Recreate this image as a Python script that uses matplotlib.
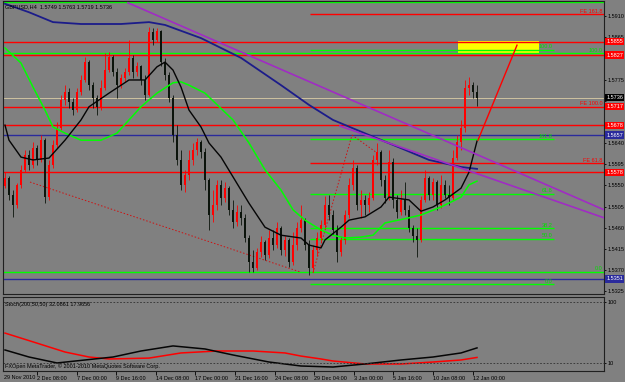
import numpy as np
import matplotlib.pyplot as plt
import matplotlib.transforms as mtransforms
from matplotlib.patches import Rectangle

plt.rcParams['font.family'] = ['Liberation Sans', 'DejaVu Sans']

# ---- data (GBPUSD H4) ----
title = "GBPUSD,H4  1.5749 1.5763 1.5719 1.5736"
first_open = 1.5549
close = [
    1.5566, 1.5529, 1.5508, 1.5551, 1.5583, 1.5615, 1.5593, 1.5629, 1.5604, 1.5646,
    1.5525, 1.5593, 1.5636, 1.5672, 1.5731, 1.5748, 1.5727, 1.5710, 1.5748, 1.5774,
    1.5812, 1.5763, 1.5736, 1.5717, 1.5757, 1.5795, 1.5823, 1.5791, 1.5763, 1.5778,
    1.5791, 1.5821, 1.5791, 1.5804, 1.5774, 1.5742, 1.5876, 1.5859, 1.5878, 1.5812,
    1.5785, 1.5736, 1.5657, 1.5604, 1.5551, 1.5572, 1.5604, 1.5625, 1.5642, 1.5621,
    1.5561, 1.5487, 1.5508, 1.5551, 1.5523, 1.5544, 1.5498, 1.5472, 1.5493, 1.5481,
    1.5438, 1.5387, 1.5374, 1.5408, 1.5430, 1.5402, 1.5438, 1.5423, 1.5459, 1.5413,
    1.5434, 1.5387, 1.5423, 1.5459, 1.5476, 1.5423, 1.5374, 1.5413, 1.5438, 1.5466,
    1.5508, 1.5487, 1.5455, 1.5408, 1.5434, 1.5487, 1.5551, 1.5587, 1.5508, 1.5519,
    1.5508, 1.5523, 1.5604, 1.5621, 1.5561, 1.5523, 1.5600, 1.5519, 1.5493, 1.5519,
    1.5498, 1.5459, 1.5442, 1.5434, 1.5519, 1.5566, 1.5529, 1.5557, 1.5508, 1.5551,
    1.5529, 1.5523, 1.5608, 1.5642, 1.5672, 1.5757, 1.5763, 1.5749, 1.5736]
high = [
    1.5578, 1.5570, 1.5540, 1.5555, 1.5593, 1.5625, 1.5625, 1.5642, 1.5636, 1.5657,
    1.5651, 1.5604, 1.5646, 1.5685, 1.5742, 1.5763, 1.5757, 1.5736, 1.5757, 1.5785,
    1.5823, 1.5816, 1.5770, 1.5742, 1.5774, 1.5831, 1.5833, 1.5827, 1.5799, 1.5787,
    1.5799, 1.5859, 1.5827, 1.5812, 1.5806, 1.5785, 1.5887, 1.5884, 1.5884, 1.5880,
    1.5821, 1.5791, 1.5742, 1.5678, 1.5625, 1.5583, 1.5625, 1.5640, 1.5651, 1.5646,
    1.5629, 1.5566, 1.5540, 1.5561, 1.5561, 1.5557, 1.5549, 1.5519, 1.5508, 1.5508,
    1.5489, 1.5444, 1.5413, 1.5417, 1.5442, 1.5434, 1.5455, 1.5455, 1.5472, 1.5464,
    1.5442, 1.5438, 1.5451, 1.5472, 1.5508, 1.5481, 1.5434, 1.5423, 1.5451, 1.5476,
    1.5527, 1.5529, 1.5498, 1.5466, 1.5442, 1.5498, 1.5566, 1.5604, 1.5593, 1.5540,
    1.5529, 1.5536, 1.5615, 1.5640, 1.5625, 1.5572, 1.5625, 1.5608, 1.5529, 1.5540,
    1.5557, 1.5508, 1.5466, 1.5459, 1.5527, 1.5583, 1.5570, 1.5566, 1.5561, 1.5572,
    1.5561, 1.5551, 1.5625, 1.5657, 1.5689, 1.5774, 1.5780, 1.5770, 1.5763]
low = [
    1.5544, 1.5519, 1.5483, 1.5502, 1.5544, 1.5578, 1.5583, 1.5587, 1.5593, 1.5600,
    1.5512, 1.5519, 1.5587, 1.5629, 1.5668, 1.5721, 1.5714, 1.5700, 1.5706, 1.5742,
    1.5770, 1.5753, 1.5714, 1.5700, 1.5710, 1.5753, 1.5791, 1.5782, 1.5736, 1.5757,
    1.5770, 1.5785, 1.5778, 1.5782, 1.5763, 1.5731, 1.5740, 1.5848, 1.5855, 1.5804,
    1.5774, 1.5727, 1.5642, 1.5593, 1.5540, 1.5536, 1.5561, 1.5593, 1.5615, 1.5608,
    1.5540, 1.5455, 1.5472, 1.5498, 1.5508, 1.5515, 1.5487, 1.5459, 1.5464, 1.5466,
    1.5430, 1.5366, 1.5366, 1.5370, 1.5398, 1.5391, 1.5396, 1.5413, 1.5417, 1.5402,
    1.5400, 1.5376, 1.5381, 1.5413, 1.5451, 1.5413, 1.5359, 1.5366, 1.5400, 1.5430,
    1.5459, 1.5476, 1.5444, 1.5387, 1.5400, 1.5425, 1.5481, 1.5540, 1.5498, 1.5481,
    1.5487, 1.5493, 1.5519, 1.5593, 1.5549, 1.5512, 1.5519, 1.5502, 1.5481, 1.5487,
    1.5487, 1.5451, 1.5430, 1.5398, 1.5430, 1.5515, 1.5519, 1.5519, 1.5498, 1.5502,
    1.5523, 1.5508, 1.5519, 1.5604, 1.5625, 1.5663, 1.5742, 1.5736, 1.5719]

# moving averages, sampled at bar numbers
blue_bar = [0, 6, 12, 19, 29, 36, 40, 49, 59, 69, 76, 82, 91, 99, 106, 114, 118]
blue_ma = [1.5936, 1.5918, 1.5897, 1.5893, 1.5893, 1.5897, 1.5891, 1.5863, 1.5821,
           1.5763, 1.5721, 1.5689, 1.5657, 1.5629, 1.5604, 1.5589, 1.5585]
black_bar = [0, 1, 4, 7, 11, 15, 19, 21, 26, 31, 35, 38, 40, 42, 44, 46, 49, 51, 54,
             57, 61, 65, 69, 74, 76, 79, 80, 84, 86, 90, 94, 96, 101, 104, 107, 110,
             114, 116, 118]
black_ma = [1.5678, 1.5646, 1.5610, 1.5604, 1.5608, 1.5646, 1.5689, 1.5717, 1.5746,
            1.5774, 1.5774, 1.5802, 1.5812, 1.5795, 1.5759, 1.5710, 1.5674, 1.5640,
            1.5610, 1.5568, 1.5512, 1.5461, 1.5444, 1.5438, 1.5423, 1.5417, 1.5434,
            1.5461, 1.5476, 1.5483, 1.5504, 1.5525, 1.5519, 1.5495, 1.5504, 1.5519,
            1.5544, 1.5578, 1.5644]
green_bar = [0, 4, 7, 10, 12, 15, 19, 24, 28, 31, 34, 38, 42, 44, 46, 50, 57, 61, 65,
             69, 72, 75, 79, 82, 85, 89, 92, 95, 101, 104, 109, 114, 116, 118]
green_ma = [1.5842, 1.5810, 1.5759, 1.5710, 1.5674, 1.5661, 1.5646, 1.5646, 1.5661,
            1.5689, 1.5717, 1.5746, 1.5768, 1.5770, 1.5763, 1.5746, 1.5689, 1.5640,
            1.5583, 1.5540, 1.5498, 1.5476, 1.5455, 1.5444, 1.5438, 1.5440, 1.5444,
            1.5470, 1.5481, 1.5487, 1.5504, 1.5525, 1.5551, 1.5559]

# trend lines (bar, price) pairs
purple_1 = ([30.75, 149.75], [1.5938, 1.5498])
purple_2 = ([83.75, 149.75], [1.5676, 1.5481])
red_ray = ([118.25, 128.0], [1.5646, 1.5848])
red_dotted = [([6.25, 73.75], [1.5557, 1.5366]),
              ([77.0, 86.75], [1.5364, 1.5657]),
              ([86.75, 93.0], [1.5657, 1.5619])]

# horizontal levels: full width
full_levels = [(1.5940, 'g'), (1.5855, 'r'), (1.5831, 'g'), (1.5827, 'r'),
               (1.5717, 'r'), (1.5678, 'r'), (1.5657, 'b'), (1.5578, 'r'),
               (1.5366, 'g'), (1.5351, 'b')]
bid = 1.5736
# fibo lines starting at the anchor bar
fibo_start, fibo_end = 76.25, 137.25
fibo_prices = [1.5838, 1.5648, 1.5532, 1.5459, 1.5436, 1.5340]
fibo_labels = ['100.0', '161.8', '61.8', '38.2', '50.0', '0.0']
fe_prices = [1.5914, 1.5717, 1.5597]
fe_labels = ['FE 161.8', 'FE 100.0', 'FE 61.8']
full_labels = [(1.5831, '100.0'), (1.5366, '0.0')]
target_box = (113.25, 133.5, 1.5829, 1.5857)

# price scale labels (those hidden under the coloured tags left blank)
price_ticks = [1.5325, 1.5370, 1.5415, 1.5460, 1.5505, 1.5550, 1.5595, 1.5640,
               1.5685, 1.5730, 1.5775, 1.5820, 1.5865, 1.5910]
hidden_ticks = [1.5685, 1.5730, 1.5820]
tags = [(1.5855, 'r'), (1.5827, 'r'), (1.5736, 'k'), (1.5717, 'r'), (1.5678, 'r'),
        (1.5657, 'b'), (1.5578, 'r'), (1.5351, 'b')]

# stochastic
stoch_main_bar = [0, 6, 13, 20, 27, 34, 42, 50, 57, 66, 74, 82, 90, 99, 107, 114, 118]
stoch_main = [29, 18.6, 9.8, 14.2, 18.6, 27.5, 35, 30.5, 21.6, 11.2, 5.3, 3.8, 8.3,
              14.2, 18.6, 24.6, 32.09]
stoch_sig_bar = [0, 7, 15, 21, 26, 36, 44, 53, 62, 70, 74, 79, 82, 90, 99, 107, 114, 118]
stoch_sig = [54, 41, 26, 18.6, 15.7, 17, 24.6, 27.5, 27.5, 24.6, 20, 15.7, 12.7, 8.3,
             8.3, 11.2, 14.2, 17.97]
stoch_label = "Stoch(200,50,50) 32.0861 17.9656"
copyright_txt = "FXOpen MetaTrader, \u00a9 2001-2010 MetaQuotes Software Corp."
date_labels = ['2 Dec 08:00', '7 Dec 00:00', '9 Dec 16:00', '14 Dec 08:00',
               '17 Dec 00:00', '21 Dec 16:00', '24 Dec 08:00', '29 Dec 04:00',
               '3 Jan 00:00', '5 Jan 16:00', '10 Jan 08:00', '12 Jan 00:00']

# ---- styling ----
BG = '#808080'
RED = '#ff0000'
GREEN = '#00ff00'
BLUE = '#2a2a9c'
DARK = '#0c140c'
cmap = {'r': RED, 'g': GREEN, 'b': BLUE, 'k': '#000000'}
FS = 4.0

W, H = 625, 382
fig = plt.figure(figsize=(W / 100, H / 100), dpi=100, facecolor=BG)
ax = fig.add_axes([3 / W, 1 - 294 / H, 601 / W, 293 / H], facecolor=BG)
ax2 = fig.add_axes([3 / W, 1 - 371 / H, 601 / W, 74 / H], facecolor=BG, sharex=ax)

close = np.array(close)
high = np.array(high)
low = np.array(low)
opens = np.r_[first_open, close[:-1]]
bars = np.arange(len(close))
up = close >= opens
body_lo = np.minimum(opens, close)
body_h = np.maximum(np.abs(close - opens), 0.00008)

for mask, col in [(up, RED), (~up, DARK)]:
    ax.vlines(bars[mask], low[mask], high[mask], color=col, lw=0.6, zorder=3)
    ax.bar(bars[mask], body_h[mask], bottom=body_lo[mask], width=0.6,
           color=col, lw=0, zorder=3)

# levels
for p, c in full_levels:
    ax.axhline(p, color=cmap[c], lw=1.0, zorder=2)
ax.axhline(bid, color='#cfc3a0', lw=0.7, zorder=2)
ax.hlines(fibo_prices, fibo_start, fibo_end, color=GREEN, lw=1.0, zorder=2)
ax.hlines([fe_prices[0], fe_prices[2]], fibo_start, 150, color=RED, lw=1.0, zorder=2)
x0, x1, y0, y1 = target_box
ax.add_patch(Rectangle((x0, y0), x1 - x0, y1 - y0, fc='#ffff00', ec='none', zorder=1.5))

lab = dict(fontsize=FS, va='bottom', zorder=6)
for p, t in zip(fibo_prices, fibo_labels):
    ax.text(fibo_end - 0.3, p + 0.0001, t, ha='right', color='#00e000', **lab)
for p, t in zip(fe_prices, fe_labels):
    ax.text(149.3, p + 0.0001, t, ha='right', color=RED, **lab)
for p, t in full_labels:
    ax.text(149.3, p + 0.0001, t, ha='right', color='#00e000', **lab)

# moving averages & trend lines
ax.plot(blue_bar, blue_ma, color='#1c1c8a', lw=1.3, zorder=4)
ax.plot(green_bar, green_ma, color=GREEN, lw=1.1, zorder=4)
ax.plot(black_bar, black_ma, color='#050505', lw=1.0, zorder=4)
for xs, ys in (purple_1, purple_2):
    ax.plot(xs, ys, color='#a02cc4', lw=1.2, zorder=5)
ax.plot(*red_ray, color=RED, lw=1.0, zorder=5)
for xs, ys in red_dotted:
    ax.plot(xs, ys, color='#d01010', lw=0.7, ls=(0, (1.5, 2)), zorder=2.5)

ax.set_xlim(-0.5, 149.75)
ax.set_ylim(1.53190, 1.59419)
ax.yaxis.tick_right()
ax.set_yticks(price_ticks)
ax.set_yticklabels(['' if p in hidden_ticks else '%.4f' % p for p in price_ticks])
ax.tick_params(axis='y', length=1.5, width=0.6, pad=0.8, labelsize=FS,
               colors='#000000', direction='out')
ax.tick_params(axis='x', bottom=False, labelbottom=False)

tr = mtransforms.blended_transform_factory(ax.transAxes, ax.transData)
for p, c in tags:
    ax.text(1.0035, p, '%.4f' % p, transform=tr, fontsize=FS, color='white',
            ha='left', va='center', zorder=10, clip_on=False,
            bbox=dict(boxstyle='square,pad=0.2', fc=cmap[c], ec='none'))

# stochastic panel
ax2.plot(stoch_sig_bar, stoch_sig, color=RED, lw=1.1)
ax2.plot(stoch_main_bar, stoch_main, color='#050505', lw=1.1)
for lvl in (100, 10):
    ax2.axhline(lvl, color='#303030', lw=0.6, ls=(0, (2, 2)))
ax2.set_ylim(-2.1, 107.4)
ax2.yaxis.tick_right()
ax2.set_yticks([100, 10])
ax2.set_yticklabels(['100', '10'])
ax2.tick_params(axis='y', length=1.5, width=0.6, pad=0.8, labelsize=FS, colors='#000000')
date_pos = 8 + 9.9 * np.arange(len(date_labels))
ax2.set_xticks(date_pos)
ax2.set_xticklabels(date_labels, ha='left')
ax2.tick_params(axis='x', length=3, width=0.6, pad=0.8, labelsize=FS, colors='#000000')
ax2.text(-0.3, -0.05, '29 Nov 2010', transform=mtransforms.blended_transform_factory(
    ax2.transData, ax2.transAxes), fontsize=FS, va='top', ha='left')
ax2.text(0.004, 0.93, stoch_label, transform=ax2.transAxes, fontsize=FS, va='top')
ax2.text(0.004, 0.03, copyright_txt, transform=ax2.transAxes, fontsize=FS, va='bottom')

for a in (ax, ax2):
    for s in a.spines.values():
        s.set_color('#202020')
        s.set_linewidth(0.8)

fig.text(5 / W, 1 - 4 / H, title, fontsize=FS, va='top', ha='left', color='#000000')

fig.savefig('out.png', dpi=100, facecolor=BG)
